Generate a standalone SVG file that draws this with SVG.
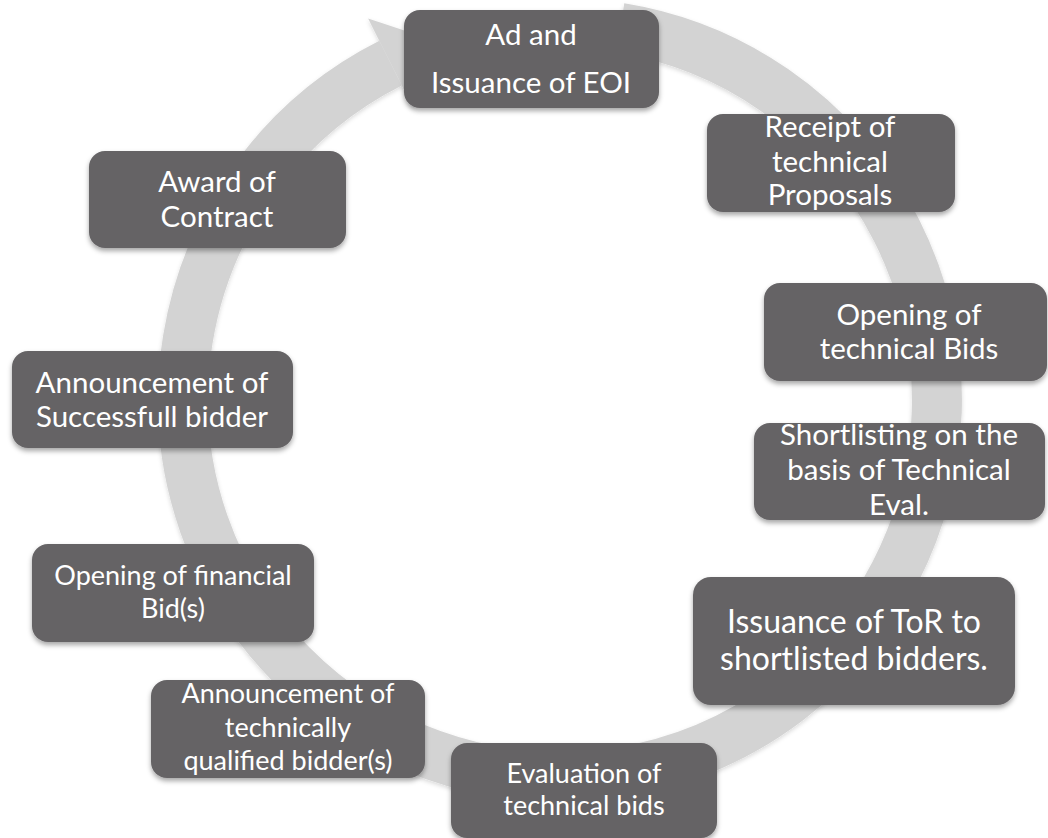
<svg xmlns="http://www.w3.org/2000/svg" width="1048" height="838" viewBox="0 0 1048 838">
<defs>
<filter id="sh" x="-10%" y="-10%" width="120%" height="130%">
<feDropShadow dx="0" dy="3" stdDeviation="2.5" flood-color="#000" flood-opacity="0.35"/>
</filter>
<filter id="rsh" x="-10%" y="-10%" width="120%" height="120%">
<feDropShadow dx="0" dy="2" stdDeviation="2" flood-color="#000" flood-opacity="0.15"/>
</filter>
<style>
.box{fill:#656365;filter:url(#sh);}
.t{font-family:Lato,"Liberation Sans",sans-serif;fill:#ffffff;text-anchor:middle;}
.f1{font-size:29.5px;}
.f2{font-size:27px;}
.f3{font-size:32px;}
.ring{fill:none;stroke:#d3d3d3;stroke-width:50;}
</style>
</defs>
<rect width="1048" height="838" fill="#ffffff"/>
<g id="connectors" filter="url(#rsh)">
<path class="ring" d="M 620.3 27.9 A 377 377 0 1 1 390.6 63.2"/>
<polygon points="368.1,18.5 435.3,40.7 413.1,107.9" fill="#d3d3d3"/>
</g>
<g id="n1">
<rect class="box" x="404" y="10" width="255" height="98" rx="16"/>
<text class="t f1" x="531" y="45">Ad and</text>
<text class="t f1" x="531" y="93">Issuance of EOI</text>
</g>
<g id="n2">
<rect class="box" x="707" y="114" width="248" height="98" rx="16"/>
<text class="t f1" x="830" y="137">Receipt of</text>
<text class="t f1" x="830" y="172">technical</text>
<text class="t f1" x="830" y="205">Proposals</text>
</g>
<g id="n3">
<rect class="box" x="764" y="283" width="283" height="98" rx="16"/>
<text class="t f1" x="909" y="325">Opening of</text>
<text class="t f1" x="909" y="359">technical Bids</text>
</g>
<g id="n4">
<rect class="box" x="754" y="423" width="291" height="97" rx="16"/>
<text class="t f1" x="899" y="445">Shortlisting on the</text>
<text class="t f1" x="899" y="480">basis of Technical</text>
<text class="t f1" x="899" y="515">Eval.</text>
</g>
<g id="n5">
<rect class="box" x="693" y="577" width="322" height="128" rx="18"/>
<text class="t f3" x="854" y="633">Issuance of ToR to</text>
<text class="t f3" x="854" y="670">shortlisted bidders.</text>
</g>
<g id="n6">
<rect class="box" x="451" y="743" width="266" height="95" rx="16"/>
<text class="t f2" x="584" y="783">Evaluation of</text>
<text class="t f2" x="584" y="815">technical bids</text>
</g>
<g id="n7">
<rect class="box" x="151" y="680" width="274" height="98" rx="16"/>
<text class="t f2" x="288" y="703">Announcement of</text>
<text class="t f2" x="288" y="737">technically</text>
<text class="t f2" x="288" y="770">qualified bidder(s)</text>
</g>
<g id="n8">
<rect class="box" x="32" y="544" width="282" height="98" rx="16"/>
<text class="t f2" x="173" y="585">Opening of financial</text>
<text class="t f2" x="173" y="618">Bid(s)</text>
</g>
<g id="n9">
<rect class="box" x="12" y="351" width="281" height="97" rx="16"/>
<text class="t f1" x="152" y="393">Announcement of</text>
<text class="t f1" x="152" y="427">Successfull bidder</text>
</g>
<g id="n10">
<rect class="box" x="89" y="151" width="257" height="97" rx="16"/>
<text class="t f1" x="217" y="192">Award of</text>
<text class="t f1" x="217" y="227">Contract</text>
</g>
</svg>
